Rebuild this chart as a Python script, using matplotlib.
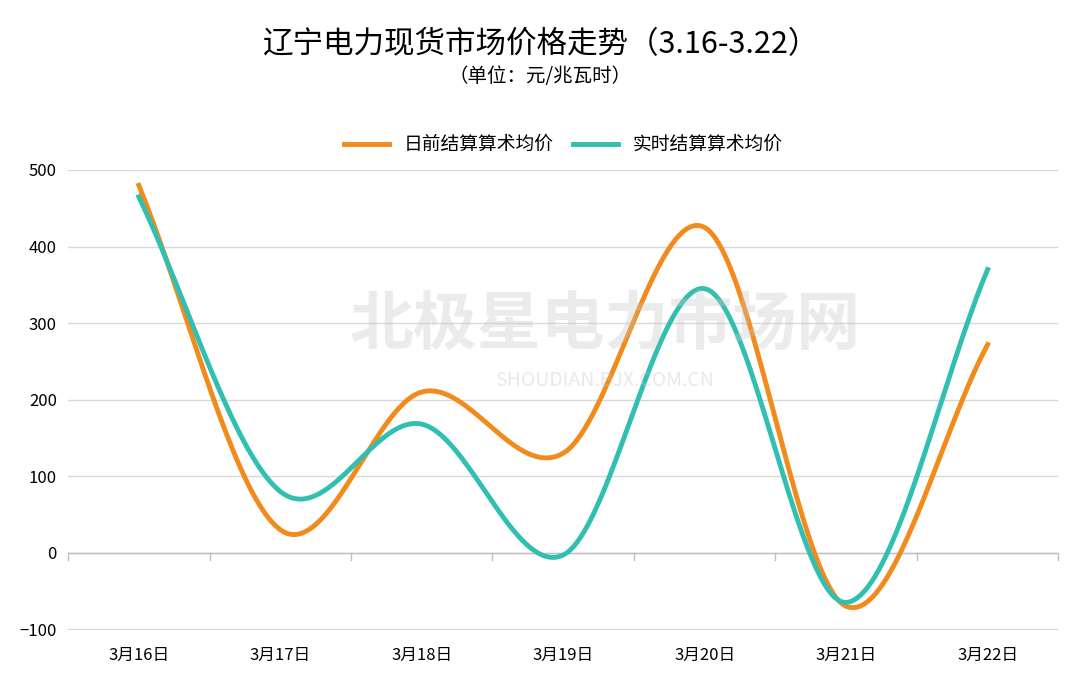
import numpy as np
import matplotlib.pyplot as plt

plt.rcParams['font.family'] = ['Noto Sans CJK SC', 'DejaVu Sans']

days = ['3月16日', '3月17日', '3月18日', '3月19日', '3月20日', '3月21日', '3月22日']
day_ahead = [480, 30, 210, 130, 425, -70, 272]
real_time = [465, 80, 168, -3, 345, -65, 370]


def smooth(x, y, n=40):
    # Catmull-Rom curve through the points, like a spreadsheet "smoothed line"
    x = np.asarray(x, float)
    y = np.asarray(y, float)
    px = np.concatenate([[2 * x[0] - x[1]], x, [2 * x[-1] - x[-2]]])
    py = np.concatenate([[2 * y[0] - y[1]], y, [2 * y[-1] - y[-2]]])
    xs, ys = [], []
    t = np.linspace(0, 1, n)
    for i in range(1, len(px) - 2):
        for p, out in ((px, xs), (py, ys)):
            p0, p1, p2, p3 = p[i - 1], p[i], p[i + 1], p[i + 2]
            out.extend(0.5 * (2 * p1 + (-p0 + p2) * t + (2 * p0 - 5 * p1 + 4 * p2 - p3) * t ** 2
                              + (-p0 + 3 * p1 - 3 * p2 + p3) * t ** 3))
    return xs, ys


fig = plt.figure(figsize=(10.8, 6.8), dpi=100)
ax = fig.add_axes([0.063, 0.0735, 0.917, 0.6765])
x = np.arange(len(days))

ax.plot(*smooth(x, day_ahead), color='#F28A1C', lw=3.5, label='日前结算算术均价', zorder=3)
ax.plot(*smooth(x, real_time), color='#30BFB0', lw=3.5, label='实时结算算术均价', zorder=4)

ax.set_xlim(-0.5, len(days) - 0.5)
ax.set_ylim(-101, 500)
ax.set_yticks(range(-100, 501, 100))
ax.grid(axis='y', color='#D9D9D9', lw=1)
ax.set_axisbelow(True)
for s in ax.spines.values():
    s.set_visible(False)
ax.axhline(0, color='#BFBFBF', lw=1)
for b in np.arange(-0.5, len(days), 1):
    ax.plot([b, b], [0, -9], color='#BFBFBF', lw=1, clip_on=False)
ax.set_xticks(x)
ax.set_xticklabels(days, fontsize=12)
ax.tick_params(axis='x', length=0, pad=12)
ax.tick_params(axis='y', length=0, labelsize=12, pad=8)

fig.text(0.5, 0.935, '辽宁电力现货市场价格走势（3.16-3.22）', ha='center', va='center', fontsize=22)
fig.text(0.5, 0.887, '（单位：元/兆瓦时）', ha='center', va='center', fontsize=14)
ax.legend(loc='center', bbox_to_anchor=(0.5, 1.055), ncol=2, frameon=False,
          fontsize=13.5, handlelength=2.4, columnspacing=1.0)

fig.text(0.56, 0.52, '北极星电力市场网', ha='center', va='center', fontsize=46,
         color='#C8C8C8', alpha=0.35, weight='bold', zorder=0)
fig.text(0.56, 0.44, 'SHOUDIAN.BJX.COM.CN', ha='center', va='center', fontsize=14,
         color='#C8C8C8', alpha=0.4, zorder=0)

fig.savefig('out.png')
